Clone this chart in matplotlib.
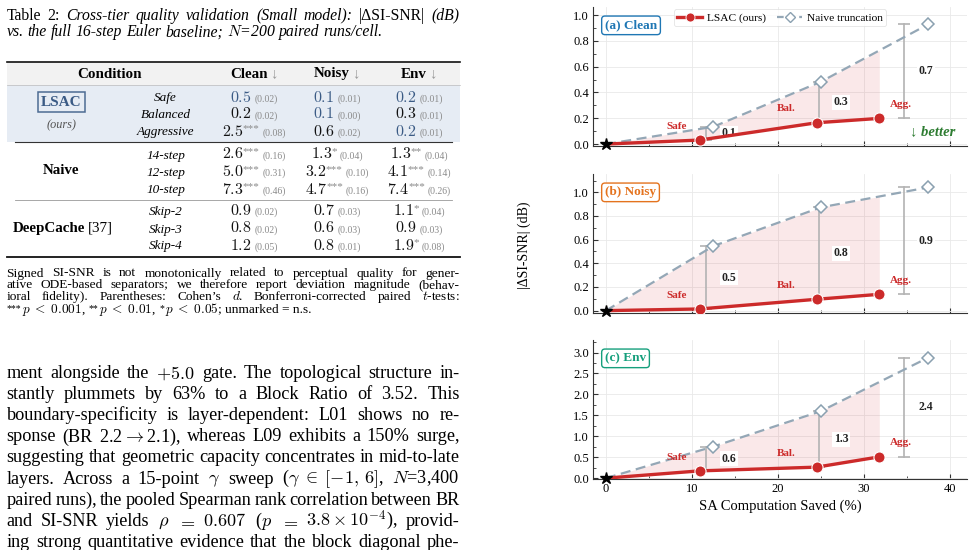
import matplotlib
matplotlib.use('Agg')
import matplotlib.pyplot as plt
import numpy as np
from matplotlib.lines import Line2D
from matplotlib.patches import Rectangle
from matplotlib.ticker import MultipleLocator

# ---------------- chart data ----------------
sa_saved_lsac = [0.0, 10.9, 24.5, 31.8]
sa_saved_naive = [0.0, 12.5, 25.0, 37.5]
clean_lsac = [0.0, 0.031, 0.165, 0.199]
clean_naive = [0.0, 0.134, 0.483, 0.928]
noisy_lsac = [0.0, 0.014, 0.096, 0.138]
noisy_naive = [0.0, 0.546, 0.873, 1.042]
env_lsac = [0.0, 0.174, 0.263, 0.509]
env_naive = [0.0, 0.755, 1.600, 2.880]
tier_names = ['Safe', 'Bal.', 'Agg.']
panel_titles = ['(a) Clean', '(b) Noisy', '(c) Env']
x_ticks = [0, 10, 20, 30, 40]

# ---------------- table data ----------------
table_columns = ['Clean', 'Noisy', 'Env']
table_groups = ['LSAC', 'Naive', 'DeepCache']
table_rows = ['Safe', 'Balanced', 'Aggressive', '14-step', '12-step', '10-step',
              'Skip-2', 'Skip-3', 'Skip-4']
clean_vals = ['0.5', '0.2', '2.5', '2.6', '5.0', '7.3', '0.9', '0.8', '1.2']
clean_sig = ['', '', '***', '***', '***', '***', '', '', '']
clean_d = ['0.02', '0.02', '0.08', '0.16', '0.31', '0.46', '0.02', '0.02', '0.05']
clean_best = [1, 0, 0, 0, 0, 0, 0, 0, 0]
noisy_vals = ['0.1', '0.1', '0.6', '1.3', '3.2', '4.7', '0.7', '0.6', '0.8']
noisy_sig = ['', '', '', '*', '***', '***', '', '', '']
noisy_d = ['0.01', '0.00', '0.02', '0.04', '0.10', '0.16', '0.03', '0.03', '0.01']
noisy_best = [1, 1, 0, 0, 0, 0, 0, 0, 0]
env_vals = ['0.2', '0.3', '0.2', '1.3', '4.1', '7.4', '1.1', '0.9', '1.9']
env_sig = ['', '', '', '**', '***', '***', '*', '', '*']
env_d = ['0.01', '0.01', '0.01', '0.04', '0.14', '0.26', '0.04', '0.03', '0.08']
env_best = [1, 0, 1, 0, 0, 0, 0, 0, 0]

# ---------------- page text ----------------
caption_line2 = "vs. the full 16-step Euler baseline; $N$=200 paired runs/cell."
footnote_lines = [
    "Signed SI-SNR is not monotonically related to perceptual quality for gener-",
    "ative ODE-based separators; we therefore report deviation magnitude (behav-",
    "ioral fidelity).  Parentheses: Cohen\u2019s $d$.  Bonferroni-corrected paired $t$-tests:",
]
sig_marks = ['***', '**', '*']
sig_levels = ['$p\\;<\\;0.001$,', '$p\\;<\\;0.01$,', '$p\\;<\\;0.05$;']
sig_tail = 'unmarked = n.s.'
body_lines = [
    "ment alongside the $+5.0$ gate.  The topological structure in-",
    "stantly plummets by 63% to a Block Ratio of 3.52.  This",
    "boundary-specificity is layer-dependent:  L01 shows no re-",
    "sponse (BR 2.2$\\rightarrow$2.1), whereas L09 exhibits a 150% surge,",
    "suggesting that geometric capacity concentrates in mid-to-late",
    "layers.  Across a 15-point $\\gamma$ sweep ($\\gamma\\;\\in\\;[-1,\\,6]$, $N$=3,400",
    "paired runs), the pooled Spearman rank correlation between BR",
    "and SI-SNR yields $\\rho$ $=$ $0.607$ ($p$ $=$ $3.8\\times10^{-4}$), provid-",
    "ing strong quantitative evidence that the block diagonal phe-",
]

SERIF = ['Liberation Serif', 'DejaVu Serif']
plt.rcParams['font.family'] = SERIF
plt.rcParams['mathtext.fontset'] = 'cm'

W, H = 974, 550
fig = plt.figure(figsize=(W / 100, H / 100), dpi=100)
R = fig.canvas.get_renderer()


def fx(x):
    return x / W


def fy(y):
    return 1 - y / H


def put(x, y, s, **kw):
    kw.setdefault('math_fontfamily', 'cm')
    return fig.text(fx(x), fy(y), s, **kw)


def wid(t):
    return t.get_window_extent(R).width


def runs(x, y, parts, ha='left'):
    objs = []
    cx = x
    for s, kw, dx, dy in parts:
        t = put(cx + dx, y + dy, s, va='baseline', **kw)
        cx += dx + wid(t)
        objs.append(t)
    total = cx - x
    if ha == 'center':
        for t in objs:
            px, py = t.get_position()
            t.set_x(px - total / 2 / W)
    return total


def toks(line, st):
    return [(w, st) for w in line.split(' ') if w]


def natural_width(tokens, size):
    tmp = [put(0, 0, s, fontsize=size, **st) for s, st in tokens]
    w = sum(wid(t) for t in tmp) + (len(tmp) - 1) * size * 100 / 72 * 0.25
    for t in tmp:
        t.remove()
    return w


def set_line(x0, x1, y, tokens, size, justify=True):
    objs = [put(0, y, s, fontsize=size, va='baseline', **st) for s, st in tokens]
    ws = [wid(o) for o in objs]
    if justify and len(objs) > 1:
        gap = (x1 - x0 - sum(ws)) / (len(objs) - 1)
    else:
        gap = size * 100 / 72 * 0.25
    cx = x0
    for o, w in zip(objs, ws):
        o.set_x(fx(cx))
        cx += w + gap


RM = {}
IT = {'style': 'italic'}
X0, X1 = 6.5, 459.5

# ---------------- caption ----------------
cap1 = [("Table", RM), ("2:", RM), ("Cross-tier", IT), ("quality", IT), ("validation", IT),
        ("(Small", IT), ("model):", IT), ("|\u0394SI-SNR|", RM), ("(dB)", IT)]
cap2 = toks(caption_line2, IT)
cap_size = 10 * 378 / natural_width(cap2, 10)
set_line(X0, X1, 19.5, cap1, cap_size)
set_line(X0, X1, 36.5, cap2, cap_size, justify=False)

# ---------------- table ----------------
TL, TR = 6.7, 460
fig.patches.append(Rectangle((fx(TL), fy(85)), (TR - TL) / W, (85 - 62) / H,
                             transform=fig.transFigure, fc='#f2f2f2', ec='none', zorder=0))
fig.patches.append(Rectangle((fx(TL), fy(142.3)), (TR - TL) / W, (142.3 - 85) / H,
                             transform=fig.transFigure, fc='#e6ecf4', ec='none', zorder=0))


def hrule(a, b, y, lw, color):
    fig.add_artist(Line2D([fx(a), fx(b)], [fy(y), fy(y)], transform=fig.transFigure,
                          color=color, lw=lw))


hrule(TL, TR, 61.7, 1.2, '#111111')
hrule(TL, TR, 85.0, 0.5, '#bbbbbb')
hrule(15, 452, 142.3, 0.8, '#333333')
hrule(15, 452, 200.0, 0.6, '#999999')
hrule(TL, TR, 257.0, 1.3, '#111111')

HDR_Y = 77.5
put(110, HDR_Y, 'Condition', fontsize=10.8, weight='bold', ha='center', va='baseline')
col_x = [254, 337, 419]
for name, cx in zip(table_columns, col_x):
    runs(cx, HDR_Y, [(name, dict(fontsize=10.8, weight='bold'), 0, 0),
                     ('\u2193', dict(fontsize=10.8, color='#9a9a9a'), 2.5, 0)], ha='center')

row_y = [101.5, 118.5, 135.5, 158.5, 176.0, 193.5, 215.0, 232.5, 249.5]
BLUE = '#3b5b85'
cols = [(clean_vals, clean_sig, clean_d, clean_best),
        (noisy_vals, noisy_sig, noisy_d, noisy_best),
        (env_vals, env_sig, env_d, env_best)]
for r, (lab, y) in enumerate(zip(table_rows, row_y)):
    put(165.5, y, lab, fontsize=9.5, style='italic', ha='center', va='baseline')
    for (vals, sig, dd, best), cx in zip(cols, col_x):
        if best[r]:
            parts = [(r'$\mathbf{%s}$' % vals[r], dict(fontsize=11.5, color=BLUE), 0, 0)]
        else:
            parts = [(r'$%s$' % vals[r], dict(fontsize=11.5, color='#111111'), 0, 0)]
        if sig[r]:
            parts.append((sig[r], dict(fontsize=8, color='#8a8a8a'), -0.8, -4.0))
        parts.append(('(%s)' % dd[r], dict(fontsize=7, color='#8a8a8a'), 3.0, 0))
        runs(cx, y, parts, ha='center')

put(61.5, 102.0, table_groups[0], fontsize=11, weight='bold', color=BLUE, ha='center',
    va='center', bbox=dict(boxstyle='square,pad=0.22', fc='none', ec='#4d6b93', lw=1.1))
put(61.5, 125.7, '(ours)', fontsize=8.8, style='italic', color='#555555', ha='center', va='center')
put(61.5, 170.0, table_groups[1], fontsize=10.8, weight='bold', ha='center', va='center')
runs(62.5, 232.0, [(table_groups[2], dict(fontsize=10.8, weight='bold'), 0, 0),
                   ('[37]', dict(fontsize=10.8), 2.8, 0)], ha='center')

# ---------------- footnote ----------------
fn_size = 9.6
FN_Y0, FN_DY = 276.5, 11.8
for i, line in enumerate(footnote_lines):
    set_line(X0, X1, FN_Y0 + FN_DY * i, toks(line, RM), fn_size, justify=True)
parts = []
for j, (mk, lv) in enumerate(zip(sig_marks, sig_levels)):
    parts.append((mk, dict(fontsize=7), 0 if j == 0 else 3.5, -1.5))
    parts.append((lv, dict(fontsize=fn_size), 0.5, 0))
parts.append((sig_tail, dict(fontsize=fn_size), 3.5, 0))
runs(X0, FN_Y0 + FN_DY * 3 + 1.2, parts)

# ---------------- body ----------------
body_tokens = [toks(l, RM) for l in body_lines]
body_size = 10 * 452 / natural_width(body_tokens[4], 10)
for i, tk in enumerate(body_tokens):
    set_line(X0, X1, 378.3 + 21.05 * i, tk, body_size, justify=True)

# ---------------- chart ----------------
RED = '#cc2a2a'
NAIVE = '#94a7b6'
panel_colors = ['#1f77b4', '#e4731e', '#159f7c']
lsac_series = [clean_lsac, noisy_lsac, env_lsac]
naive_series = [clean_naive, noisy_naive, env_naive]
ylims = [(-0.015, 1.062), (-0.02, 1.155), (-0.02, 3.30)]
ysteps = [0.2, 0.2, 0.5]
bottoms_px = [146, 313, 479]
AX_L, AX_R, AX_H = 593, 967, 139
tier_offsets = [(-23, 13.5), (-30, 14), (22, 14)]

axes = []
for k in range(3):
    ax = fig.add_axes([fx(AX_L), fy(bottoms_px[k]), (AX_R - AX_L) / W, AX_H / H])
    axes.append(ax)
    ly = lsac_series[k]
    ny = naive_series[k]
    ax.set_xlim(-1.5, 42)
    ax.set_ylim(*ylims[k])
    ax.grid(True, color='#e9e9e9', lw=0.6)
    ax.set_axisbelow(True)
    for s in ['top', 'right']:
        ax.spines[s].set_visible(False)
    for s in ['left', 'bottom']:
        ax.spines[s].set_color('#333333')
        ax.spines[s].set_linewidth(0.8)
    ax.xaxis.set_major_locator(MultipleLocator(10))
    ax.xaxis.set_minor_locator(MultipleLocator(5))
    ax.yaxis.set_major_locator(MultipleLocator(ysteps[k]))
    ax.yaxis.set_minor_locator(MultipleLocator(ysteps[k] / 2))
    ax.tick_params(which='both', direction='in', top=False, right=False, color='#333333',
                   labelsize=9, pad=3)
    ax.tick_params(which='major', length=3.5, width=0.8)
    ax.tick_params(which='minor', length=2.0, width=0.6)
    ax.yaxis.set_major_formatter(matplotlib.ticker.FormatStrFormatter('%.1f'))
    if k < 2:
        ax.tick_params(labelbottom=False)

    # shaded gap region
    xs = sorted(set(sa_saved_lsac) | {x for x in sa_saved_naive if x <= sa_saved_lsac[-1]})
    lo = np.interp(xs, sa_saved_lsac, ly)
    hi = np.interp(xs, sa_saved_naive, ny)
    ax.fill_between(xs, lo, hi, color='#d62728', alpha=0.1, lw=0, zorder=1)

    # gap bars and labels
    for i in range(1, 4):
        bx = (sa_saved_lsac[i] + sa_saved_naive[i]) / 2
        ax.plot([bx, bx], [ly[i], ny[i]], color='#b3b3b3', lw=1.2, marker='_', ms=9,
                mew=1.2, zorder=2)
        ax.text(bx + 2.6, (ly[i] + ny[i]) / 2, '%.1f' % (ny[i] - ly[i]), fontsize=8.5,
                weight='bold', ha='center', va='center', color='#222222', zorder=2.5,
                bbox=dict(boxstyle='square,pad=0.12', fc='white', ec='none'))

    ax.plot(sa_saved_naive, ny, ls=(0, (4.5, 2.5)), color=NAIVE, lw=1.6, zorder=3)
    ax.plot(sa_saved_naive[1:], ny[1:], ls='none', marker='D', ms=6, mfc='white',
            mec='#8aa0b0', mew=1.1, zorder=3.5)
    ax.plot(sa_saved_lsac, ly, color=RED, lw=2.4, zorder=4, solid_capstyle='round')
    ax.plot(sa_saved_lsac[1:], ly[1:], ls='none', marker='o', ms=8, mfc=RED,
            mec='white', mew=0.8, zorder=4.5)
    ax.plot([sa_saved_lsac[0]], [ly[0]], marker='*', color='black', ms=9, ls='none',
            zorder=5, clip_on=False)

    for i, name in enumerate(tier_names):
        ax.annotate(name, (sa_saved_lsac[i + 1], ly[i + 1]), xytext=tier_offsets[i],
                    textcoords='offset pixels', color=RED, fontsize=8, weight='bold',
                    ha='center', va='center', zorder=6)

    ax.text(0.032, 0.868, panel_titles[k], transform=ax.transAxes, color=panel_colors[k],
            fontsize=9.5, weight='bold', ha='left', va='center', zorder=7,
            bbox=dict(boxstyle='round,pad=0.25', fc='white', ec=panel_colors[k], lw=1.0))

axes[0].text(0.97, 0.10, '\u2193 better', transform=axes[0].transAxes, color='#2e7d32',
             fontsize=10.5, weight='bold', style='italic', ha='right', va='center')

handles = [Line2D([], [], color=RED, lw=2.4, marker='o', ms=6.5, mec='white', mew=0.6),
           Line2D([], [], color=NAIVE, lw=1.6, ls=(0, (3, 2)), marker='D', ms=5.5,
                  mfc='white', mec='#8aa0b0', mew=1.0)]
leg = axes[0].legend(handles, ['LSAC (ours)', 'Naive truncation'], loc='upper center',
                     bbox_to_anchor=(0.5, 1.0), ncol=2, fontsize=8.2, frameon=True,
                     handlelength=2.2, columnspacing=1.0, borderpad=0.3, handletextpad=0.4,
                     borderaxespad=0.2)
leg.get_frame().set_edgecolor('#dddddd')
leg.get_frame().set_linewidth(0.6)
leg.set_zorder(8)

axes[2].set_xticks(x_ticks)
axes[2].set_xlabel('SA Computation Saved (%)', fontsize=10.5, labelpad=3)
fig.text(fx(524), fy(245), '|\u0394SI-SNR| (dB)', rotation=90, ha='center', va='center',
         fontsize=10)

fig.savefig('out.png', dpi=100)
